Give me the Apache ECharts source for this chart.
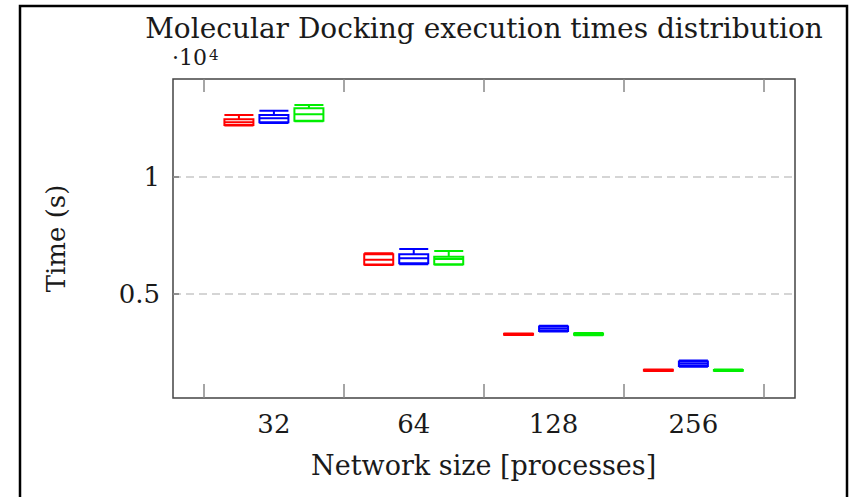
<!DOCTYPE html>
<html><head><meta charset="utf-8">
<script src="https://cdn.jsdelivr.net/npm/echarts@6/dist/echarts.min.js"></script>
<style>html,body{margin:0;padding:0;background:#fff}#c{width:850px;height:497px}</style>
</head><body><div id="c"></div>
<script>
// ---- data ----
const categories = ['32', '64', '128', '256'];
// [min, Q1, median, Q3, max] in seconds
const redBoxes = [
  [12180, 12202, 12317, 12445, 12629],
  [6235, 6260, 6460, 6690, 6740],
  [3250, 3265, 3285, 3305, 3320],
  [1720, 1735, 1753, 1770, 1785]
];
const blueBoxes = [
  [12290, 12317, 12488, 12629, 12812],
  [6270, 6311, 6524, 6694, 6920],
  [3400, 3427, 3520, 3620, 3650],
  [1900, 1936, 2030, 2127, 2170]
];
const greenBoxes = [
  [12360, 12385, 12658, 12914, 13054],
  [6250, 6268, 6494, 6592, 6835],
  [3240, 3260, 3290, 3320, 3340],
  [1715, 1730, 1748, 1765, 1780]
];
const yTickValues = [5000, 10000];
const yMin = 570, yMax = 14160;
const titleText = 'Molecular Docking execution times distribution';
const xName = 'Network size [processes]';
const yName = 'Time (s)';
const scaleBase = '·10', scaleExp = '4';

// ---- chart ----
const FONT = 'DejaVu Serif';
const TXT = '#1a1a1a';
const chart = echarts.init(document.getElementById('c'), null, {renderer: 'svg'});
const gTop = 79, gBottom = 99;
const hiddenY = i => ({gridIndex: i, type: 'value', min: yMin, max: yMax, show: false, splitLine: {show: false}});
const hiddenX = i => ({gridIndex: i, type: 'category', data: categories, show: false});
const boxSeries = (name, data, color, idx) => ({
  name, type: 'boxplot', xAxisIndex: idx, yAxisIndex: idx, data,
  boxWidth: [29, 29],
  itemStyle: {color: 'rgba(0,0,0,0)', borderColor: color, borderWidth: 2},
  emphasis: {disabled: true}, animation: false, silent: true
});
chart.setOption({
  animation: false,
  title: [
    {text: titleText, left: 484, textAlign: 'center', top: 14, padding: 0,
     textStyle: {fontFamily: FONT, fontSize: 28, lineHeight: 28, fontWeight: 'normal', color: TXT}}
  ],
  graphic: [
    {type: 'rect', shape: {x: 20, y: 6, width: 827, height: 520}, style: {fill: 'none', stroke: '#000', lineWidth: 2.5}, silent: true},
    {type: 'text', x: 172, y: 68, style: {text: scaleBase, fill: TXT, fontFamily: FONT, fontSize: 22, lineHeight: 22, align: 'left', verticalAlign: 'bottom'}},
    {type: 'text', x: 209, y: 47, style: {text: scaleExp, fill: TXT, fontFamily: FONT, fontSize: 15, lineHeight: 15, align: 'left', verticalAlign: 'top'}}
  ],
  grid: [
    {left: 173, right: 55, top: gTop, bottom: gBottom, show: true, borderColor: '#444', borderWidth: 1.5, backgroundColor: 'rgba(0,0,0,0)'},
    {left: 169, right: 121.7, top: gTop, bottom: gBottom},
    {left: 204, right: 86.7, top: gTop, bottom: gBottom},
    {left: 239, right: 51.7, top: gTop, bottom: gBottom}
  ],
  xAxis: [
    hiddenX(0), hiddenX(1),
    {gridIndex: 2, type: 'category', data: categories, position: 'bottom',
     axisLine: {show: false},
     axisTick: {show: true, inside: true, length: 14, lineStyle: {color: '#888', width: 1.5}},
     axisLabel: {fontFamily: FONT, fontSize: 26, color: TXT, margin: 13},
     name: xName, nameLocation: 'middle', nameGap: 54,
     nameTextStyle: {fontFamily: FONT, fontSize: 27, color: TXT}},
    hiddenX(3),
    {gridIndex: 2, type: 'category', data: categories, position: 'top',
     axisLine: {show: false},
     axisTick: {show: true, inside: true, length: 13, lineStyle: {color: '#888', width: 1.5}},
     axisLabel: {show: false}}
  ],
  yAxis: [
    {gridIndex: 0, type: 'value', min: yMin, max: yMax,
     axisLine: {show: false},
     axisTick: {show: true, inside: true, length: 6, customValues: yTickValues, lineStyle: {color: '#777', width: 1.5}},
     axisLabel: {customValues: yTickValues, fontFamily: FONT, fontSize: 26, color: TXT, margin: 13,
                 formatter: v => String(v / 10000)},
     splitLine: {show: true, lineStyle: {color: '#c8c8c8', type: [8, 5], width: 1.5}},
     name: yName, nameLocation: 'middle', nameGap: 104, nameRotate: 90,
     nameTextStyle: {fontFamily: FONT, fontSize: 26, color: TXT}},
    hiddenY(1), hiddenY(2), hiddenY(3)
  ],
  series: [
    boxSeries('red', redBoxes, '#ff0000', 1),
    boxSeries('blue', blueBoxes, '#0000ff', 2),
    boxSeries('green', greenBoxes, '#00ee00', 3)
  ]
});
</script></body></html>
